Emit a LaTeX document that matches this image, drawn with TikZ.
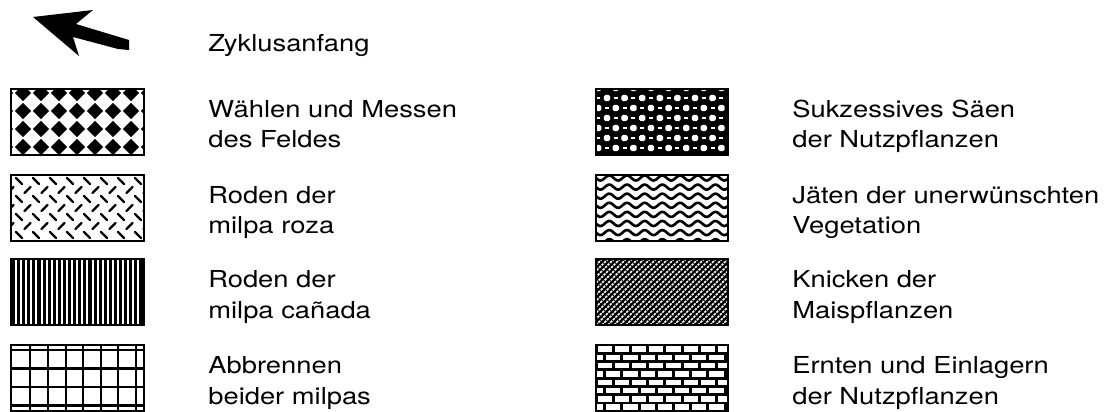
\documentclass[tikz,border=0pt]{standalone}
\usepackage{fontspec}
\setmainfont{TeX Gyre Heros}[FakeStretch=1.17]
\newcommand{\legendfont}{\fontsize{13.3}{17.64}\selectfont}

\begin{document}
\begin{tikzpicture}[x=0.02cm,y=-0.02cm,
    lbl/.style={anchor=base west,align=left,inner sep=0pt,font=\legendfont},
    frame/.style={draw=black,line width=1.7pt},
    tread/.style={draw=black,line width=1.25pt,line cap=round},
    gridline/.style={draw=black,line width=1.5pt},
    wave/.style={draw=black,line width=1.5pt},
    hatch/.style={draw=white,line width=0.9pt,dash pattern=on 1.4pt off 0.6pt}
  ]
    \useasboundingbox (0,0) rectangle (1110,412);
    % start-of-cycle arrow
    \fill (33,17) -- (93,10) -- (76,24) -- (129,40) -- (129,50) -- (118,49)
      -- (73,37) -- (79,56) -- cycle;
    \node[lbl] (zyk) at (208,52) {Zyklusanfang};

    % left column (base anchor = last line)
    \begin{scope}[shift={(11,89)}]
      \clip (0,0) rectangle (133,66);
      \foreach \i in {-1,...,7}
        \foreach \j in {0,...,4}
          \fill (12+18*\i,4+18*\j) ++(-8.2,0) -- ++(8.2,-8.2) -- ++(8.2,8.2) -- ++(-8.2,8.2) -- cycle;
    \end{scope}
    \draw[frame] (11,89) rectangle ++(133,66);
    \node[lbl] (waehlen) at (208,148) {Wählen und Messen\\des Feldes};

    \begin{scope}[shift={(11,175)}]
      \clip (0,0) rectangle (133,66);
      \foreach \k in {0,2,4,6}
        \foreach \i in {-1,...,8}
          \draw[tread] (8+17*\i-3,6+9*\k-3) -- ++(6,6);
      \foreach \k in {1,3,5}
        \foreach \i in {-1,...,8}
          \draw[tread] (16.5+17*\i-3,6+9*\k+3) -- ++(6,-6);
    \end{scope}
    \draw[frame] (11,175) rectangle ++(133,66);
    \node[lbl] (roza) at (208,234) {Roden der\\milpa roza};

    \begin{scope}[shift={(11,259)}]
      \clip (0,0) rectangle (133,66);
      \fill (0,0) rectangle (133,66);
      \foreach \i in {0,...,25}
        \fill[white] (4+5.1*\i,0) rectangle ++(2,66);
    \end{scope}
    \draw[frame] (11,259) rectangle ++(133,66);
    \node[lbl] (canada) at (208,318) {Roden der\\milpa cañada};

    \begin{scope}[shift={(11,345)}]
      \clip (0,0) rectangle (133,66);
      \foreach \gx in {19,37,55,72,90,107,125}
        \draw[gridline] (\gx,0) -- (\gx,66);
      \foreach \gy in {5,23.5,42,60.5}
        \draw[gridline] (0,\gy) -- (133,\gy);
    \end{scope}
    \draw[frame] (11,345) rectangle ++(133,66);
    \node[lbl] (brand) at (208,404) {Abbrennen\\beider milpas};

    % right column
    \begin{scope}[shift={(596,89)}]
      \clip (0,0) rectangle (132,66);
      \fill (0,0) rectangle (132,66);
      \foreach \r in {-1,...,6} {
        \pgfmathsetmacro\off{mod(\r,2)*8.8}
        \foreach \i in {-1,...,8} {
          \fill[white,rounded corners=1pt] (11+\off+17.6*\i-3.2,9+10*\r-3.2) rectangle ++(6.4,6.4);
          \fill[white] (19.8-\off+17.6*\i-2,9+10*\r-1) rectangle ++(4,2);
        }
      }
    \end{scope}
    \draw[frame] (596,89) rectangle ++(132,66);
    \node[lbl] (saeen) at (792,148) {Sukzessives Säen\\der Nutzpflanzen};

    \begin{scope}[shift={(596,175)}]
      \clip (0,0) rectangle (132,66);
      \foreach \k in {0,...,7}
        \draw[wave] plot[domain=-2:136,samples=120] (\x,{3+9.1*\k+2.5*sin(\x/17.7*360)});
    \end{scope}
    \draw[frame] (596,175) rectangle ++(132,66);
    \node[lbl] (jaeten) at (792,234) {Jäten der unerwünschten\\Vegetation};

    \begin{scope}[shift={(596,259)}]
      \clip (0,0) rectangle (132,66);
      \fill (0,0) rectangle (132,66);
      \foreach \i in {-12,...,22}
        \draw[hatch] (6*\i,66) -- ++(66,-66);
    \end{scope}
    \draw[frame] (596,259) rectangle ++(132,66);
    \node[lbl] (knicken) at (792,318) {Knicken der\\Maispflanzen};

    \begin{scope}[shift={(596,345)}]
      \clip (0,0) rectangle (132,66);
      \fill (0,0) rectangle (132,66);
      \foreach \k in {0,...,7} {
        \pgfmathsetmacro\off{mod(\k,2)*8.6}
        \foreach \i in {-1,...,8}
          \fill[white] (\off+17.2*\i+1.5,4+8.3*\k-2.7) rectangle ++(14.2,5.4);
      }
    \end{scope}
    \draw[frame] (596,345) rectangle ++(132,66);
    \node[lbl] (ernten) at (792,404) {Ernten und Einlagern\\der Nutzpflanzen};
  \end{tikzpicture}
\end{document}
